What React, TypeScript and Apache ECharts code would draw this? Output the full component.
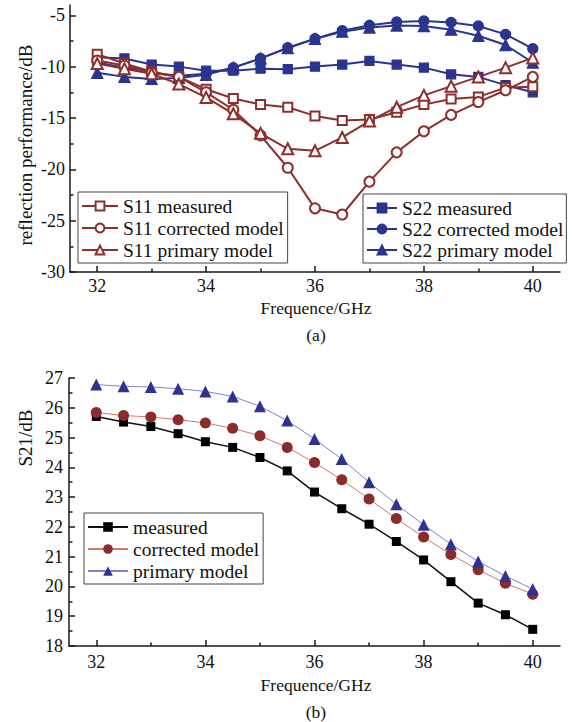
import React, { useEffect, useRef } from "react";
import * as echarts from "echarts";

const freq = [32, 32.5, 33, 33.5, 34, 34.5, 35, 35.5, 36, 36.5, 37, 37.5, 38, 38.5, 39, 39.5, 40];

const s11Measured = [-8.8, -9.7, -10.5, -11.0, -12.2, -13.1, -13.7, -13.95, -14.8, -15.25, -15.15, -14.45, -13.7, -13.15, -12.95, -12.05, -11.95];
const s11Corrected = [-9.4, -9.9, -10.6, -11.0, -12.5, -14.2, -16.7, -19.85, -23.8, -24.4, -21.2, -18.35, -16.3, -14.7, -13.45, -12.3, -11.0];
const s11Primary = [-9.7, -10.2, -10.7, -11.7, -13.0, -14.6, -16.5, -18.0, -18.2, -16.9, -15.3, -13.95, -12.8, -11.9, -11.0, -10.1, -9.15];
const s22Measured = [-9.1, -9.2, -9.8, -10.0, -10.4, -10.4, -10.2, -10.25, -10.0, -9.8, -9.45, -9.8, -10.1, -10.75, -11.0, -11.8, -12.5];
const s22Corrected = [-9.6, -10.1, -10.6, -10.9, -10.7, -10.1, -9.2, -8.15, -7.28, -6.5, -5.98, -5.65, -5.55, -5.7, -6.04, -6.86, -8.25];
const s22Primary = [-10.6, -11.0, -11.2, -11.1, -10.8, -10.1, -9.2, -8.2, -7.3, -6.6, -6.2, -6.0, -6.05, -6.4, -7.0, -7.9, -9.6];

const s21Measured = [25.71, 25.52, 25.37, 25.13, 24.86, 24.67, 24.33, 23.88, 23.17, 22.61, 22.09, 21.51, 20.89, 20.16, 19.44, 19.05, 18.56];
const s21Corrected = [25.84, 25.74, 25.69, 25.6, 25.49, 25.31, 25.06, 24.67, 24.16, 23.58, 22.94, 22.28, 21.66, 21.07, 20.56, 20.11, 19.74];
const s21Primary = [26.78, 26.72, 26.7, 26.64, 26.55, 26.38, 26.05, 25.57, 24.95, 24.28, 23.5, 22.76, 22.07, 21.42, 20.84, 20.35, 19.91];

const xMajor = [32, 34, 36, 38, 40];
const xMinor = [33, 35, 37, 39];
const yMajorA = [-30, -25, -20, -15, -10, -5];
const yMinorA = [-27.5, -22.5, -17.5, -12.5, -7.5];
const yMajorB = [18, 19, 20, 21, 22, 23, 24, 25, 26, 27];
const yMinorB = [18.5, 19.5, 20.5, 21.5, 22.5, 23.5, 24.5, 25.5, 26.5];

const FONT = "Liberation Serif";
const AXIS_COLOR = "#1a1a1a";
const RED = "#8e2f2c";
const BLUE = "#2a3590";

const pair = (ys: number[]) => freq.map((f, i) => [f, ys[i]]);

function majorAxis(gridIndex: number, min: number, max: number, ticks: number[], margin: number, pos: string) {
  return {
    gridIndex,
    type: "value",
    position: pos,
    min,
    max,
    axisLine: { show: true, onZero: false, lineStyle: { color: AXIS_COLOR, width: 1.5 } },
    axisTick: { show: true, inside: true, length: 6, customValues: ticks, lineStyle: { color: AXIS_COLOR, width: 1.5 } },
    axisLabel: { show: true, customValues: ticks, margin, fontFamily: FONT, fontSize: 18, color: "#111" },
    splitLine: { show: false },
  };
}
function minorAxis(gridIndex: number, min: number, max: number, ticks: number[], pos: string) {
  return {
    gridIndex,
    type: "value",
    position: pos,
    min,
    max,
    axisLine: { show: false, onZero: false },
    axisTick: { show: true, inside: true, length: 3.5, customValues: ticks, lineStyle: { color: AXIS_COLOR, width: 1.5 } },
    axisLabel: { show: false },
    splitLine: { show: false },
  };
}

function topSeries(name: string, ys: number[], symbol: string, size: number, color: string) {
  return {
    name,
    type: "line",
    xAxisIndex: 0,
    yAxisIndex: 0,
    data: pair(ys),
    symbol,
    symbolSize: size,
    lineStyle: { color, width: 2 },
    itemStyle: { color, borderColor: color, borderWidth: 1.3 },
  };
}
function bottomSeries(name: string, ys: number[], symbol: string, size: number, lineColor: string, markColor: string, w: number) {
  return {
    name,
    type: "line",
    xAxisIndex: 2,
    yAxisIndex: 2,
    data: pair(ys),
    symbol,
    symbolSize: size,
    lineStyle: { color: lineColor, width: w },
    itemStyle: { color: markColor, borderColor: markColor, borderWidth: 0 },
  };
}

const legendText = () => ({ fontFamily: FONT, fontSize: 19.5, color: "#111", lineHeight: 20 });

export default function App() {
  const ref = useRef<HTMLDivElement>(null);
  useEffect(() => {
    if (!ref.current) return;
    const chart = echarts.init(ref.current, null, { renderer: "svg" });
    chart.setOption({
      animation: false,
      backgroundColor: "#fff",
      grid: [
        { left: 70, top: 5, width: 490, height: 267 },
        { left: 69, top: 378, width: 491, height: 268 },
      ],
      xAxis: [
        majorAxis(0, 31.5, 40.5, xMajor, 5, "bottom"),
        minorAxis(0, 31.5, 40.5, xMinor, "bottom"),
        majorAxis(1, 31.5, 40.5, xMajor, 7, "bottom"),
        minorAxis(1, 31.5, 40.5, xMinor, "bottom"),
      ],
      yAxis: [
        majorAxis(0, -30, -4, yMajorA, 5, "left"),
        minorAxis(0, -30, -4, yMinorA, "left"),
        majorAxis(1, 18, 27, yMajorB, 6, "left"),
        minorAxis(1, 18, 27, yMinorB, "left"),
      ],
      legend: [
        {
          orient: "vertical",
          left: 78,
          top: 192,
          padding: [4, 4, 3, 3],
          itemGap: 2,
          itemWidth: 36,
          itemHeight: 11,
          borderColor: "#444",
          borderWidth: 1,
          textStyle: legendText(),
          data: ["S11 measured", "S11 corrected model", "S11 primary model"],
        },
        {
          orient: "vertical",
          left: 363,
          top: 194,
          padding: [4, 3, 3, 3],
          itemGap: 1,
          itemWidth: 30,
          itemHeight: 11,
          borderColor: "#444",
          borderWidth: 1,
          textStyle: legendText(),
          data: ["S22 measured", "S22 corrected model", "S22 primary model"],
        },
        {
          orient: "vertical",
          left: 84,
          top: 513,
          padding: [4, 4, 3, 3],
          itemGap: 2,
          itemWidth: 40,
          itemHeight: 12,
          borderColor: "#444",
          borderWidth: 1,
          textStyle: legendText(),
          data: ["measured", "corrected model", "primary model"],
        },
      ],
      graphic: [
        { type: "text", x: 316, y: 308, style: { text: "Frequence/GHz", font: `17.5px "${FONT}"`, fill: "#111", textAlign: "center", textVerticalAlign: "middle" } },
        { type: "text", x: 316, y: 335, style: { text: "(a)", font: `17.5px "${FONT}"`, fill: "#111", textAlign: "center", textVerticalAlign: "middle" } },
        { type: "text", x: 316, y: 685, style: { text: "Frequence/GHz", font: `17.5px "${FONT}"`, fill: "#111", textAlign: "center", textVerticalAlign: "middle" } },
        { type: "text", x: 316, y: 712, style: { text: "(b)", font: `17.5px "${FONT}"`, fill: "#111", textAlign: "center", textVerticalAlign: "middle" } },
        { type: "text", x: 25, y: 145, rotation: Math.PI / 2, style: { text: "reflection performance/dB", font: `19px "${FONT}"`, fill: "#111", textAlign: "center", textVerticalAlign: "middle" } },
        { type: "text", x: 25, y: 438, rotation: Math.PI / 2, style: { text: "S21/dB", font: `19px "${FONT}"`, fill: "#111", textAlign: "center", textVerticalAlign: "middle" } },
      ],
      series: [
        topSeries("S22 measured", s22Measured, "rect", 9, BLUE),
        topSeries("S22 corrected model", s22Corrected, "circle", 10, BLUE),
        topSeries("S22 primary model", s22Primary, "triangle", 11, BLUE),
        topSeries("S11 measured", s11Measured, "emptyRect", 9, RED),
        topSeries("S11 corrected model", s11Corrected, "emptyCircle", 10, RED),
        topSeries("S11 primary model", s11Primary, "emptyTriangle", 11, RED),
        bottomSeries("measured", s21Measured, "rect", 9, "#111", "#000", 1.5),
        bottomSeries("corrected model", s21Corrected, "circle", 11, "#d27a6c", "#8b2b2b", 1),
        bottomSeries("primary model", s21Primary, "triangle", 12, "#7e82cf", "#2c3391", 1),
      ],
    });
    return () => chart.dispose();
  }, []);
  return <div ref={ref} style={{ position: "fixed", left: 0, top: 0, width: 572, height: 722 }} />;
}
